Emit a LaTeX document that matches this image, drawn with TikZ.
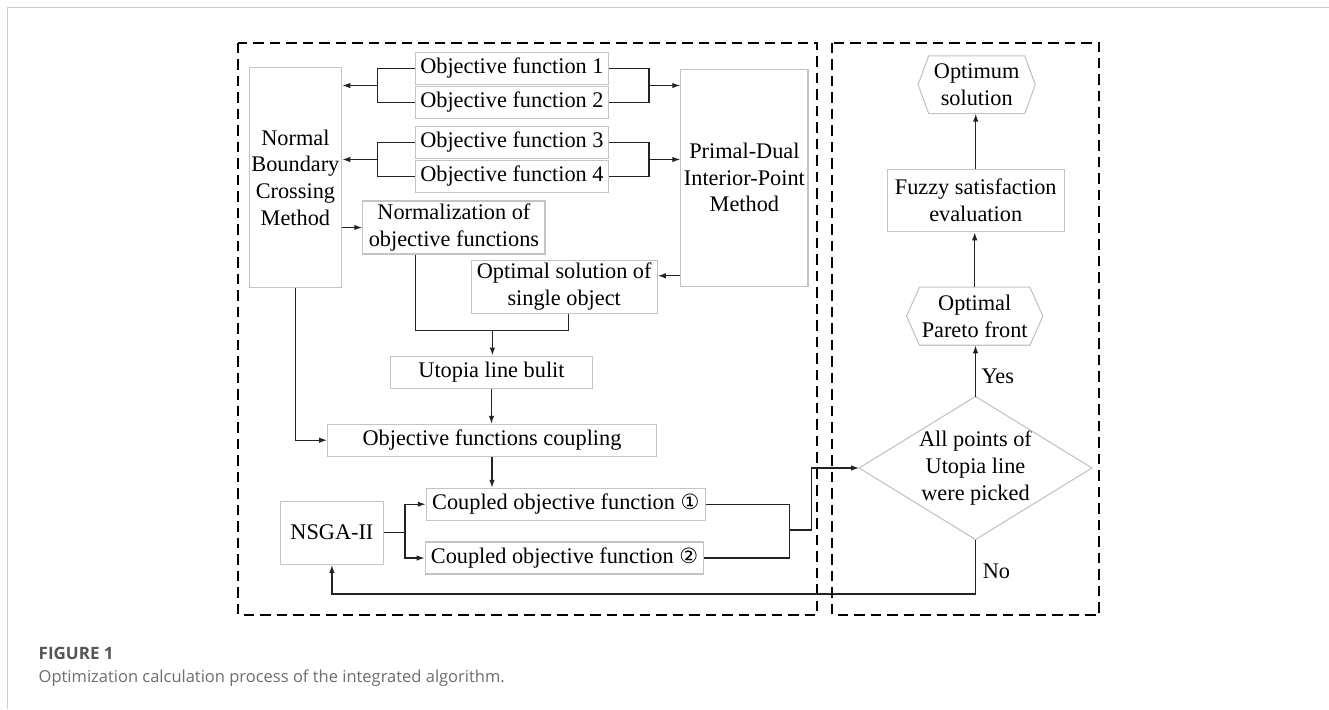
\documentclass[tikz,border=0pt]{standalone}
\usepackage{fontspec}
\setmainfont{Liberation Serif}
\newfontfamily\capfont{Open Sans}
\newfontfamily\symfont{DejaVu Sans}
\usetikzlibrary{arrows.meta,calc}
\definecolor{boxgray}{RGB}{196,196,196}
\definecolor{linec}{RGB}{35,35,35}
\definecolor{framec}{RGB}{205,205,205}
\definecolor{capdark}{RGB}{85,85,85}
\definecolor{caplight}{RGB}{110,110,110}
\newcommand{\cnum}[1]{{\symfont\fontsize{21}{24}\selectfont #1}}
\begin{document}
\begin{tikzpicture}[x=1pt,y=-1pt,
  txt/.style={inner sep=0pt, align=center, font=\fontsize{22.3}{26.6}\selectfont, text=black},
  box/.style={txt, draw=boxgray, line width=1.1pt},
  outline/.style={draw=boxgray, line width=1.1pt},
  ln/.style={draw=linec, line width=1.3pt},
  arr/.style={ln, -{Latex[length=8pt,width=5.5pt]}},
  dbox/.style={draw=black, line width=2pt, dash pattern=on 10.5pt off 6pt},
  lbl/.style={inner sep=0pt, font=\fontsize{22.3}{26.6}\selectfont}
]
\useasboundingbox (0,0) rectangle (1329,709);
\fill[white] (0,0) rectangle (1329,709);
% frame
\draw[framec, line width=1.5pt] (7.3,709) -- (7.3,7.3) -- (1329,7.3);
% dashed groups
\draw[dbox] (238.4,42.7) rectangle (817.3,615);
\draw[dbox] (832.3,42.7) rectangle (1099.3,615);

% left column nodes
\node[box, minimum width=92.6pt, minimum height=220.4pt] (nbc) at (295.4,177.5) {Normal\\Boundary\\Crossing\\Method};
\node[box, minimum width=127.1pt, minimum height=216.7pt] (pd) at (744.4,177.7) {Primal-Dual\\Interior-Point\\Method};
\node[box, minimum width=192.5pt, minimum height=31.3pt] (ob1) at (511.9,68.4) {Objective function 1};
\node[box, minimum width=192.5pt, minimum height=31.6pt] (ob2) at (511.9,102.5) {Objective function 2};
\node[box, minimum width=192.5pt, minimum height=31.6pt] (ob3) at (511.9,142.5) {Objective function 3};
\node[box, minimum width=192.5pt, minimum height=31.6pt] (ob4) at (511.9,176.5) {Objective function 4};
\node[box, minimum width=182.2pt, minimum height=53pt] (norm) at (453.9,227.5) {Normalization of\\objective functions};
\node[box, minimum width=186pt, minimum height=53.5pt] (optsol) at (564.2,286.8) {Optimal solution of\\single object};
\node[box, minimum width=202pt, minimum height=32.3pt] (utop) at (491.5,372.2) {Utopia line bulit};
\node[box, minimum width=328.7pt, minimum height=31.7pt] (coup) at (492,440.2) {Objective functions coupling};
\node[box, minimum width=279pt, minimum height=31.7pt] (c1) at (565.8,504.2) {Coupled objective function \cnum{①}};
\node[box, minimum width=278.6pt, minimum height=32pt] (c2) at (564.5,558) {Coupled objective function \cnum{②}};
\node[box, minimum width=102.8pt, minimum height=63.3pt] (nsga) at (331.9,532.7) {NSGA-II};

% right column nodes
\node[txt, minimum width=116.7pt, minimum height=57.3pt] (optimum) at (976.7,84.7) {Optimum\\solution};
\draw[outline] (optimum.west) -- ([xshift=10.5pt]optimum.north west) -- ([xshift=-10.5pt]optimum.north east) -- (optimum.east) -- ([xshift=-10.5pt]optimum.south east) -- ([xshift=10.5pt]optimum.south west) -- cycle;
\node[box, minimum width=176.7pt, minimum height=62.4pt] (fuz) at (975.7,200.5) {Fuzzy satisfaction\\evaluation};
\node[txt, minimum width=136pt, minimum height=57.7pt] (par) at (974.7,316.2) {Optimal\\Pareto front};
\draw[outline] (par.west) -- ([xshift=13pt]par.north west) -- ([xshift=-13pt]par.north east) -- (par.east) -- ([xshift=-13pt]par.south east) -- ([xshift=13pt]par.south west) -- cycle;
\node[txt, minimum width=232.4pt, minimum height=142.6pt] (dec) at (975.5,468) {All points of\\Utopia line\\were picked};
\draw[outline] (dec.north) -- (dec.east) -- (dec.south) -- (dec.west) -- cycle;

% connectors: objective functions
\coordinate (jl1) at (377.3,85.5);
\coordinate (jr1) at (649,85.5);
\coordinate (jl2) at (377.3,159.5);
\coordinate (jr2) at (649,159.5);
\draw[ln] (ob1.west) -| (jl1) |- (ob2.west);
\draw[arr] (jl1) -- (jl1 -| nbc.east);
\draw[ln] (ob1.east) -| (jr1) |- (ob2.east);
\draw[arr] (jr1) -- (jr1 -| pd.west);
\draw[ln] (ob3.west) -| (jl2) |- (ob4.west);
\draw[arr] (jl2) -- (jl2 -| nbc.east);
\draw[ln] (ob3.east) -| (jr2) |- (ob4.east);
\draw[arr] (jr2) -- (jr2 -| pd.west);
% NBC -> normalization
\draw[arr] (nbc.east |- norm.west) -- (norm.west);
% PD -> optimal solution
\coordinate (po) at ([yshift=11pt]optsol.east);
\draw[arr] (po -| pd.west) -- (po);
% merge into utopia
\coordinate (j1) at (492.4,330.7);
\draw[ln] ([xshift=-38.1pt]norm.south) |- (j1);
\draw[ln] ([xshift=4.6pt]optsol.south) |- (j1);
\draw[arr] (j1) -- (j1 |- utop.north);
\draw[arr] (utop.south) -- (utop.south |- coup.north);
\draw[arr] (nbc.south) |- (coup.west);
\draw[arr] (coup.south) -- (coup.south |- c1.north);
% NSGA branches
\coordinate (nb) at ([xshift=21pt]nsga.east);
\draw[arr] (nsga.east) -- (nb) |- (c1.west);
\draw[arr] (nb) |- (c2.west);
% coupled -> decision
\coordinate (rb) at (789.5,530);
\coordinate (rk) at (811.5,530);
\draw[ln] (c1.east) -| (rb) |- (c2.east);
\draw[arr] (rb) -- (rk) |- (dec.west);
% right column flow
\draw[arr] (dec.north) -- (dec.north |- par.south);
\draw[arr] (par.north) -- (par.north |- fuz.south);
\draw[arr] (fuz.north) -- (fuz.north |- optimum.south);
\node[lbl] (yes) at (997.8,376.7) {Yes};
% feedback
\coordinate (fb) at (dec.south |- 0,594);
\draw[arr] (dec.south) -- (fb) -| (nsga.south);
\node[lbl] (no) at (996.5,571.7) {No};

% caption
\node[anchor=base west, inner sep=0pt, font=\capfont\bfseries\fontsize{17}{20}\selectfont, text=capdark] (fig) at (38.5,659) {FIGURE 1};
\node[anchor=base west, inner sep=0pt, font=\capfont\fontsize{16.5}{20}\selectfont, text=caplight] (cap) at (38.5,682) {Optimization calculation process of the integrated algorithm.};
\end{tikzpicture}
\end{document}
